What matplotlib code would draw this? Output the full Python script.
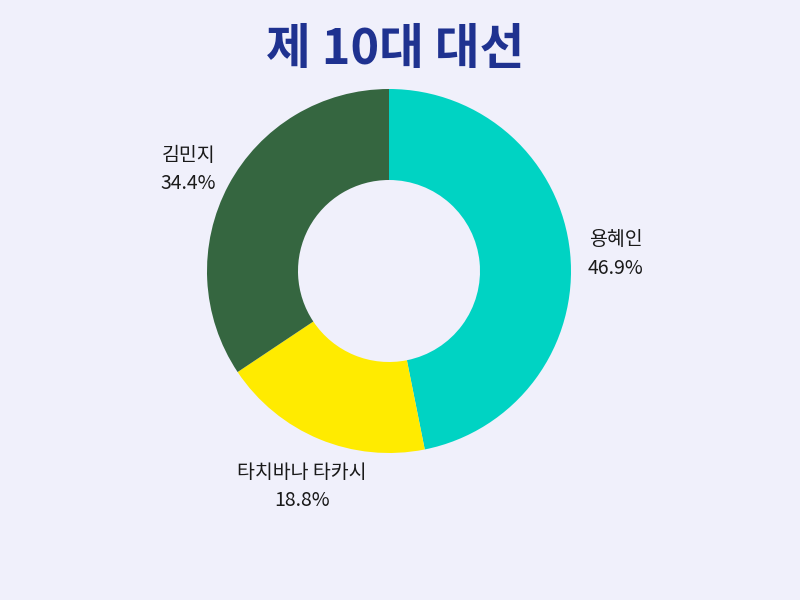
import numpy as np
import matplotlib.pyplot as plt

plt.rcParams['font.family'] = ['Noto Sans CJK KR', 'DejaVu Sans']

# 데이터
names = ["용혜인", "타치바나 타카시", "김민지"]
shares = [46.9, 18.8, 34.4]
colors = ["#00D3C3", "#FFEB00", "#356640"]
title = "제 10대 대선"

bg = "#F0F0FB"
fig = plt.figure(figsize=(8, 6), dpi=100, facecolor=bg)

# 도넛 중심 (389, 271), 반지름 182 px
R = 182
cx, cy = 389, 271
ax = fig.add_axes([(cx - R) / 800, (600 - cy - R) / 600, 2 * R / 800, 2 * R / 600])
ax.set_facecolor(bg)

labels = [f"{n}\n{s}%" for n, s in zip(names, shares)]
wedges, texts = ax.pie(shares, colors=colors, labels=labels, startangle=90,
                       counterclock=False, radius=1, labeldistance=1.25,
                       wedgeprops=dict(width=0.5, linewidth=0),
                       textprops=dict(fontsize=14, color="#1a1a1a"))
for t in texts:
    t.set_ha("center")
    t.set_va("center")
    t.set_linespacing(1.45)
    x, y = t.get_position()
    t.set_position((x, y - 0.03))
ax.set_xlim(-1, 1)
ax.set_ylim(-1, 1)
ax.set_aspect("equal")
ax.axis("off")

fig.text(0.494, 1 - 49 / 600, title, ha="center", va="center",
         fontsize=35, fontweight="bold", color="#1F3290")

fig.savefig("out.png", dpi=100, facecolor=bg)
